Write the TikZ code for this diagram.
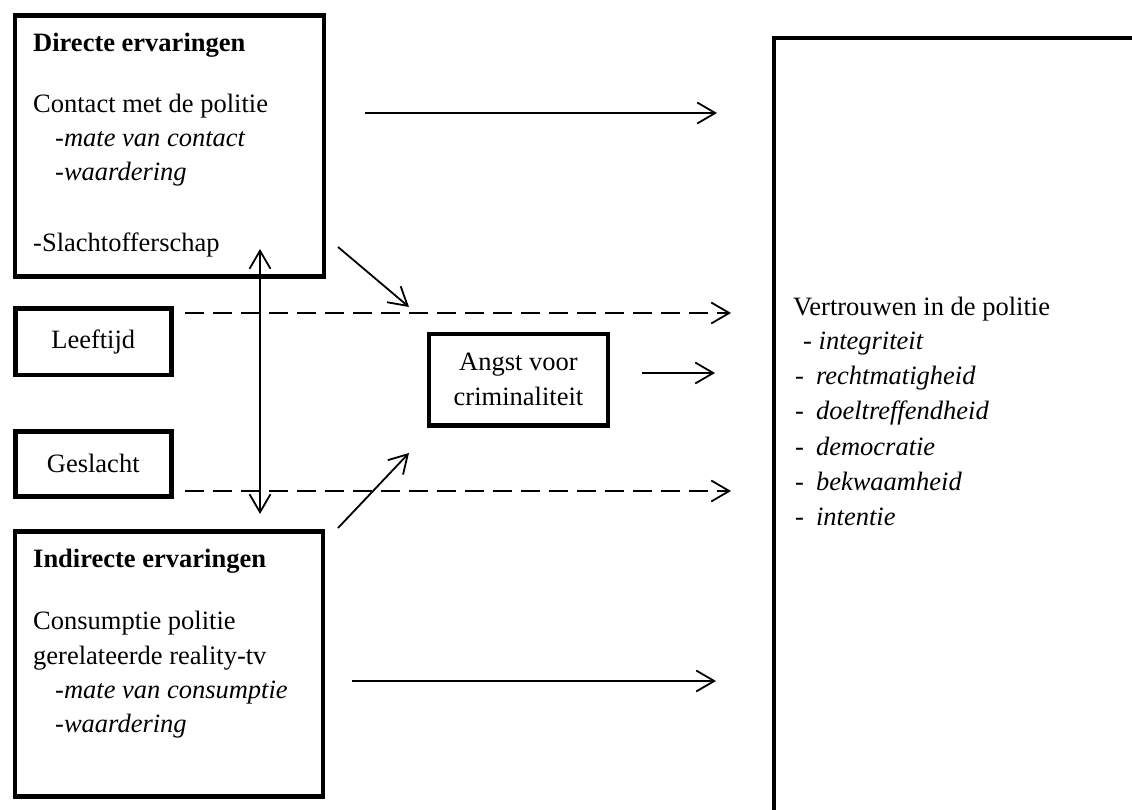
\documentclass[tikz,border=0pt]{standalone}
\usepackage{fontspec}
\setmainfont{Liberation Serif}
\usetikzlibrary{arrows.meta}
\begin{document}
\begin{tikzpicture}[x=1pt,y=-1pt,
  box/.style={draw,line width=4.5pt,inner sep=0pt,anchor=north west,
    font=\fontsize{26.5}{35}\selectfont,align=center},
  txt/.style={anchor=base west,inner sep=0pt,font=\fontsize{26.5}{35}\selectfont},
  arr/.style={line width=1.8pt,-{Straight Barb[length=18pt,width=21pt,line width=1.8pt]}},
  biarr/.style={line width=1.8pt,{Straight Barb[length=18pt,width=21pt,line width=1.8pt]}-{Straight Barb[length=18pt,width=21pt,line width=1.8pt]}},
  darr/.style={arr,dash pattern=on 19pt off 9pt}
]
\useasboundingbox (0,0) rectangle (1132,810);
\clip (0,0) rectangle (1132,810);

% boxes
\node[box,minimum width=309pt,minimum height=261pt] (direct) at (12.5,13.5) {};
\node[box,minimum width=156pt,minimum height=66.5pt] (age) at (13,306) {Leeftijd};
\node[box,minimum width=156pt,minimum height=65pt] (sex) at (13,429) {Geslacht};
\node[box,minimum width=308pt,minimum height=265pt] (indirect) at (12.5,529) {};
\node[box,minimum width=179pt,minimum height=91.3pt] (fear) at (426.7,331.7) {Angst voor\\criminaliteit};
\node[box,minimum width=400pt,minimum height=800pt] (trust) at (771.7,35.8) {};

% texts in Directe ervaringen
\node[txt,font=\fontsize{26.5}{35}\selectfont\bfseries] (d1) at (33,52) {Directe ervaringen};
\node[txt] (d2) at (33,113) {Contact met de politie};
\node[txt] (d3) at (55,147) {-\textit{mate van contact}};
\node[txt] (d4) at (55,181) {-\textit{waardering}};
\node[txt] (d5) at (33,252) {-Slachtofferschap};

% texts in Indirecte ervaringen
\node[txt,font=\fontsize{26.5}{35}\selectfont\bfseries] (i1) at (33,567) {Indirecte ervaringen};
\node[txt] (i2) at (33,629) {Consumptie politie};
\node[txt] (i3) at (33,664) {gerelateerde reality-tv};
\node[txt] (i4) at (55,698) {-\textit{mate van consumptie}};
\node[txt] (i5) at (55,732) {-\textit{waardering}};

% texts in Vertrouwen
\node[txt] (t0) at (793,315) {Vertrouwen in de politie};
\node[txt] (t1) at (803,349) {- \textit{integriteit}};
\node[txt] (t2) at (795,384) {-\hspace{12pt}\textit{rechtmatigheid}};
\node[txt] (t3) at (795,419) {-\hspace{12pt}\textit{doeltreffendheid}};
\node[txt] (t4) at (795,455) {-\hspace{12pt}\textit{democratie}};
\node[txt] (t5) at (795,490) {-\hspace{12pt}\textit{bekwaamheid}};
\node[txt] (t6) at (795,525) {-\hspace{12pt}\textit{intentie}};

% connector end points
\coordinate (a1s) at (365,113);  \coordinate (a1e) at (717,113);
\coordinate (a2s) at (185,313);  \coordinate (a2e) at (731,313);
\coordinate (a3s) at (642,373);  \coordinate (a3e) at (715,373);
\coordinate (a4s) at (185,491);  \coordinate (a4e) at (731,491);
\coordinate (a5s) at (352,681);  \coordinate (a5e) at (716,681);
\coordinate (a6s) at (338,247);  \coordinate (a6e) at (409,307);
\coordinate (a7s) at (338,528);  \coordinate (a7e) at (409,453);
\coordinate (vt) at (260,249);   \coordinate (vb) at (260,514);

\draw[arr] (a1s) -- (a1e);
\draw[darr] (a2s) -- (a2e);
\draw[arr] (a3s) -- (a3e);
\draw[darr] (a4s) -- (a4e);
\draw[arr] (a5s) -- (a5e);
\draw[arr] (a6s) -- (a6e);
\draw[arr] (a7s) -- (a7e);
\draw[biarr] (vt) -- (vb);
\end{tikzpicture}
\end{document}
